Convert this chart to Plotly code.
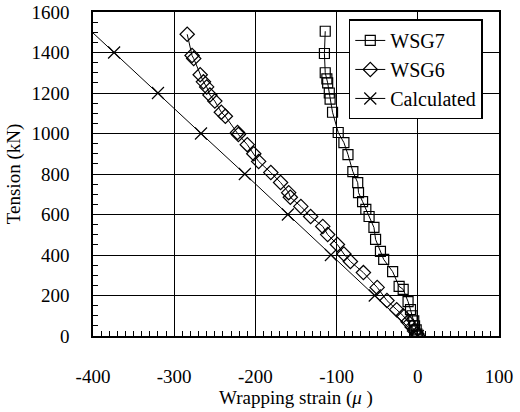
import plotly.graph_objects as go

# WSG7 (squares)
wsg7_strain = [-114, -115, -114, -112, -111, -109, -108, -105, -98, -91, -86, -80, -74, -73, -68, -64, -60,
               -54, -52, -46, -42, -31, -23, -18, -12, -9, -7, -5, -4, -2, -1, 0]
wsg7_tension = [1505, 1395, 1300, 1270, 1250, 1200, 1170, 1105, 1005, 955, 896, 812, 757, 708, 664, 625, 590,
                536, 477, 418, 378, 318, 245, 230, 170, 130, 100, 75, 50, 30, 10, 0]

# WSG6 (diamonds)
wsg6_strain = [-284, -278, -276, -268, -264, -260, -256, -250, -242, -237, -222, -221, -210, -202, -196, -181,
               -169, -159, -157, -144, -132, -117, -111, -99, -91, -83, -67, -50, -38, -26, -18, -12, -7, -4, -1, 0]
wsg6_tension = [1490, 1385, 1370, 1290, 1255, 1230, 1190, 1160, 1105, 1085, 1005, 995, 945, 900, 862, 807,
                758, 708, 685, 640, 590, 541, 501, 452, 405, 368, 313, 240, 175, 130, 100, 70, 45, 25, 10, 0]

# Calculated (x markers, straight line)
calc_strain = [0, -53, -107, -160, -213, -267, -320, -374, -417]
calc_tension = [0, 200, 400, 600, 800, 1000, 1200, 1400, 1560]

x_ticks = [-400, -300, -200, -100, 0, 100]
y_ticks = [0, 200, 400, 600, 800, 1000, 1200, 1400, 1600]
x_minor = list(range(-400, 101, 10))
y_minor = list(range(0, 1601, 50))

FONT = "Times New Roman, serif"

fig = go.Figure()
fig.add_trace(go.Scatter(
    x=wsg7_strain, y=wsg7_tension, mode="lines+markers", name="WSG7",
    line=dict(color="black", width=1),
    marker=dict(symbol="square-open", size=10, color="black", line=dict(width=1.2)),
))
fig.add_trace(go.Scatter(
    x=wsg6_strain, y=wsg6_tension, mode="lines+markers", name="WSG6",
    line=dict(color="black", width=1),
    marker=dict(symbol="diamond-open", size=11, color="black", line=dict(width=1.2)),
))
fig.add_trace(go.Scatter(
    x=calc_strain, y=calc_tension, mode="lines+markers", name="Calculated",
    line=dict(color="black", width=1),
    marker=dict(symbol="x-thin-open", size=12, color="black", line=dict(width=1.2, color="black")),
))

axis_common = dict(
    showline=True, linecolor="black", linewidth=1.5, mirror=True,
    showgrid=True, gridcolor="black", gridwidth=1, zeroline=False,
    ticks="", tickfont=dict(family=FONT, size=19, color="black"),
)

fig.update_layout(
    template="none",
    xaxis=dict(
        range=[-400, 100], tickvals=x_ticks, ticktext=[str(v) for v in x_ticks],
        ticklabelstandoff=22,
        title=dict(text="Wrapping strain (<i>μ</i> )", font=dict(family=FONT, size=19, color="black"), standoff=4),
        **axis_common,
    ),
    yaxis=dict(
        range=[0, 1600], tickvals=y_ticks, ticktext=[str(v) for v in y_ticks],
        ticklabelstandoff=18,
        title=dict(text="Tension (kN)", font=dict(family=FONT, size=19, color="black"), standoff=6),
        **axis_common,
    ),
    # overlay axes carrying the small inside ticks
    xaxis2=dict(
        overlaying="x", anchor="y", side="bottom", range=[-400, 100],
        tickvals=x_minor, ticks="inside", ticklen=5, tickcolor="black", tickwidth=1,
        showticklabels=False, showgrid=False, zeroline=False, showline=False,
    ),
    yaxis2=dict(
        overlaying="y", anchor="x", side="left", range=[0, 1600],
        tickvals=y_minor, ticks="inside", ticklen=5, tickcolor="black", tickwidth=1,
        showticklabels=False, showgrid=False, zeroline=False, showline=False,
    ),
    width=520, height=412,
    margin=dict(l=93, r=21, t=12, b=76, autoexpand=False),
    showlegend=True,
    legend=dict(
        x=0.63, y=0.977, xanchor="left", yanchor="top",
        bgcolor="white", bordercolor="black", borderwidth=1.5,
        font=dict(family=FONT, size=20, color="black"),
    ),
)

# invisible trace so the overlay axes are drawn
fig.add_trace(go.Scatter(x=[None], y=[None], xaxis="x2", yaxis="y2", showlegend=False, hoverinfo="skip"))

fig.write_html("out.html")
